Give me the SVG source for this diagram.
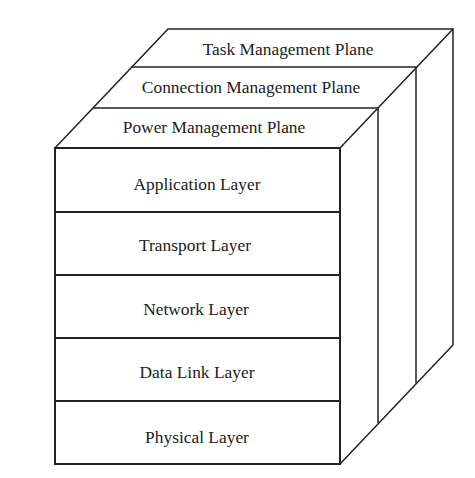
<svg xmlns="http://www.w3.org/2000/svg" width="475" height="478" viewBox="0 0 475 478">
<style>
.t{font-family:"Liberation Serif","Times New Roman",serif;font-size:17.4px;fill:#222;text-anchor:middle}
.e{fill:none;stroke:#222;stroke-width:1.5;stroke-linejoin:miter}
.f{fill:#fff;stroke:#222;stroke-width:2}
</style>
<rect width="475" height="478" fill="#fff"/>
<g id="connectors">
<path class="e" d="M55,148 L168,29 L453,29 L453,345 L340,464"/>
<path class="e" d="M93,108 L378,108 L378,423"/>
<path class="e" d="M131,67 L416,67 L416,383"/>
<path class="e" d="M340,148 L453,29"/>
</g>
<g id="task-plane"><text class="t" x="288" y="55">Task Management Plane</text></g>
<g id="connection-plane"><text class="t" x="251" y="93">Connection Management Plane</text></g>
<g id="power-plane"><text class="t" x="214" y="133">Power Management Plane</text></g>
<g id="application-layer"><rect class="f" x="55" y="148" width="285" height="64"/><text class="t" x="197" y="190">Application Layer</text></g>
<g id="transport-layer"><rect class="f" x="55" y="212" width="285" height="63"/><text class="t" x="195" y="251">Transport Layer</text></g>
<g id="network-layer"><rect class="f" x="55" y="275" width="285" height="63"/><text class="t" x="196" y="315">Network Layer</text></g>
<g id="data-link-layer"><rect class="f" x="55" y="338" width="285" height="63"/><text class="t" x="197" y="378">Data Link Layer</text></g>
<g id="physical-layer"><rect class="f" x="55" y="401" width="285" height="63"/><text class="t" x="197" y="443">Physical Layer</text></g>
</svg>
